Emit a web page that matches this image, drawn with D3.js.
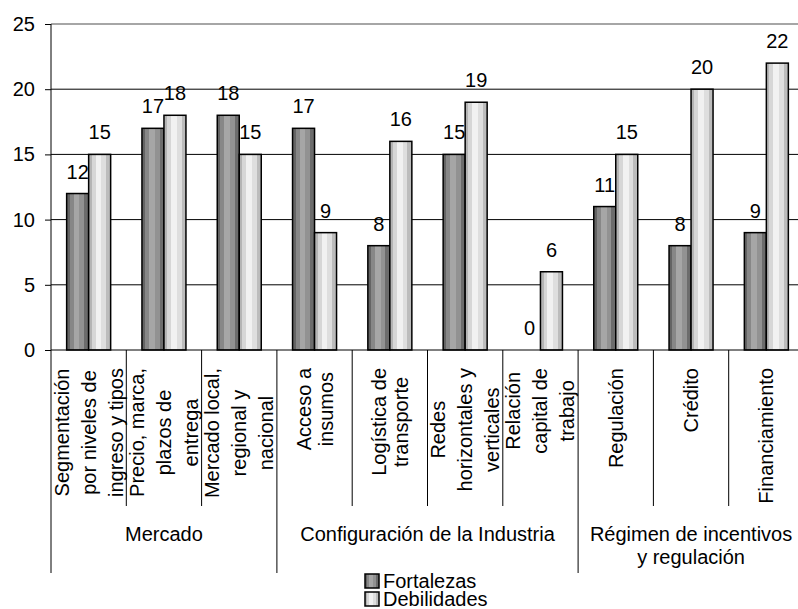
<!DOCTYPE html>
<html>
<head>
<meta charset="utf-8">
<script src="https://cdn.jsdelivr.net/npm/d3@7"></script>
<style>
  body { margin: 0; background: #fff; }
  text { font-family: "Liberation Sans", Arial, sans-serif; font-size: 20px; fill: #000; }
</style>
</head>
<body>
<script>
// chart values
var categories = [
  "Segmentación\npor niveles de\ningreso y tipos",
  "Precio, marca,\nplazos de\nentrega",
  "Mercado local,\nregional y\nnacional",
  "Acceso a\ninsumos",
  "Logística de\ntransporte",
  "Redes\nhorizontales y\nverticales",
  "Relación\ncapital de\ntrabajo",
  "Regulación",
  "Crédito",
  "Financiamiento"
];
var fortalezas  = [12, 17, 18, 17, 8, 15, 0, 11, 8, 9];
var debilidades = [15, 18, 15, 9, 16, 19, 6, 15, 20, 22];
var seriesNames = ["Fortalezas", "Debilidades"];
var groupNames  = ["Mercado", "Configuración de la Industria", "Régimen de incentivos\ny regulación"];
var groupSizes  = [3, 4, 3];
var yTicks = [0, 5, 10, 15, 20, 25];

var width = 798, height = 609;
var plotLeft = 51, plotRight = 804, plotTop = 24, plotBottom = 350;

var svg = d3.select("body").append("svg")
  .attr("width", width)
  .attr("height", height);

// striped "cylinder" fills
var defs = svg.append("defs");
function cylinder(id, bands) {
  var g = defs.append("linearGradient").attr("id", id)
    .attr("x1", "0%").attr("x2", "100%").attr("y1", "0%").attr("y2", "0%");
  bands.forEach(function(b) {
    g.append("stop").attr("offset", b[0] + "%").attr("stop-color", b[2]);
    g.append("stop").attr("offset", b[1] + "%").attr("stop-color", b[2]);
  });
}
cylinder("gradF", [[0, 14, "#646464"], [14, 32, "#878787"], [32, 58, "#a6a6a6"], [58, 80, "#929292"], [80, 100, "#6c6c6c"]]);
cylinder("gradD", [[0, 14, "#b4b4b4"], [14, 32, "#d6d6d6"], [32, 58, "#f1f1f1"], [58, 80, "#dedede"], [80, 100, "#bcbcbc"]]);
var fills = ["url(#gradF)", "url(#gradD)"];

var x = d3.scaleBand().domain(d3.range(categories.length)).range([plotLeft, plotRight]);
var bw = x.bandwidth();
var x1 = d3.scaleBand().domain([0, 1]).range([bw / 2 - 22, bw / 2 + 22]);
var y = d3.scaleLinear().domain([0, 25]).range([plotBottom, plotTop]);

// grid
svg.selectAll(".grid")
  .data(yTicks.filter(function(t) { return t > 0; }))
  .enter().append("line")
  .attr("x1", plotLeft).attr("x2", width)
  .attr("y1", function(d) { return y(d); })
  .attr("y2", function(d) { return y(d); })
  .attr("stroke", function(d) { return d === 25 ? "#888" : "#000"; })
  .attr("stroke-width", function(d) { return d === 25 ? 1.6 : 1; });

// y axis
var yAxis = svg.append("g")
  .attr("transform", "translate(" + plotLeft + ",0)")
  .call(d3.axisLeft(y).tickValues(yTicks).tickSize(6).tickPadding(10));
yAxis.select(".domain").remove();
yAxis.selectAll("line").attr("stroke", "#000");
yAxis.selectAll("text").style("font-size", "20px").style("font-family", "'Liberation Sans', Arial, sans-serif");
svg.append("line").attr("x1", plotLeft).attr("x2", plotLeft).attr("y1", plotTop).attr("y2", 573).attr("stroke", "#000");

// data rows: one entry per bar
var bars = [];
categories.forEach(function(c, i) {
  bars.push({ cat: i, s: 0, v: fortalezas[i] });
  bars.push({ cat: i, s: 1, v: debilidades[i] });
});

// value labels (drawn under the bars)
svg.selectAll(".lab")
  .data(bars)
  .enter().append("text")
  .attr("x", function(d) { return x(d.cat) + x1(d.s) + x1.bandwidth() / 2; })
  .attr("y", function(d) { return y(d.v) - 15; })
  .attr("text-anchor", "middle")
  .text(function(d) { return d.v; });

// bars
svg.selectAll(".bar")
  .data(bars.filter(function(d) { return d.v > 0; }))
  .enter().append("rect")
  .attr("x", function(d) { return x(d.cat) + x1(d.s); })
  .attr("y", function(d) { return y(d.v); })
  .attr("width", x1.bandwidth())
  .attr("height", function(d) { return y(0) - y(d.v); })
  .attr("fill", function(d) { return fills[d.s]; })
  .attr("stroke", "#000")
  .attr("stroke-width", 1.5);

// x axis line
svg.append("line").attr("x1", plotLeft).attr("x2", width).attr("y1", plotBottom).attr("y2", plotBottom).attr("stroke", "#000");

// category separators and group separators
var groupEdges = [0];
groupSizes.forEach(function(n, k) { groupEdges.push(groupEdges[k] + n); });
d3.range(1, categories.length).forEach(function(i) {
  var isGroup = groupEdges.indexOf(i) >= 0;
  svg.append("line")
    .attr("x1", x(i)).attr("x2", x(i))
    .attr("y1", plotBottom).attr("y2", isGroup ? 573 : 506)
    .attr("stroke", "#000");
});

// rotated category labels
categories.forEach(function(c, i) {
  var lines = c.split("\n");
  var lh = lines.length === 3 ? 27 : 22;
  var g = svg.append("g");
  var texts = lines.map(function(l) {
    return g.append("text")
      .attr("text-anchor", "middle")
      .attr("dy", "0.35em")
      .text(l);
  });
  var maxLen = d3.max(texts, function(t) { return t.node().getComputedTextLength(); });
  var cy = 368 + maxLen / 2;
  texts.forEach(function(t, k) {
    var cx = x(i) + bw / 2 + (k - (lines.length - 1) / 2) * lh;
    t.attr("transform", "translate(" + cx + "," + cy + ") rotate(-90)");
  });
});

// group labels
var start = 0;
groupNames.forEach(function(name, k) {
  var x0 = x(start), x2 = x(start + groupSizes[k] - 1) + bw;
  name.split("\n").forEach(function(l, j) {
    svg.append("text")
      .attr("x", (x0 + x2) / 2)
      .attr("y", 541 + j * 23)
      .attr("text-anchor", "middle")
      .text(l);
  });
  start += groupSizes[k];
});

// legend
var legend = svg.selectAll(".legend")
  .data(seriesNames)
  .enter().append("g")
  .attr("transform", function(d, s) { return "translate(365," + (574 + s * 18) + ")"; });
legend.append("rect")
  .attr("width", 14).attr("height", 14)
  .attr("fill", function(d, s) { return fills[s]; })
  .attr("stroke", "#000").attr("stroke-width", 1.5);
legend.append("text")
  .attr("x", 18).attr("y", 14)
  .text(function(d) { return d; });
</script>
</body>
</html>
